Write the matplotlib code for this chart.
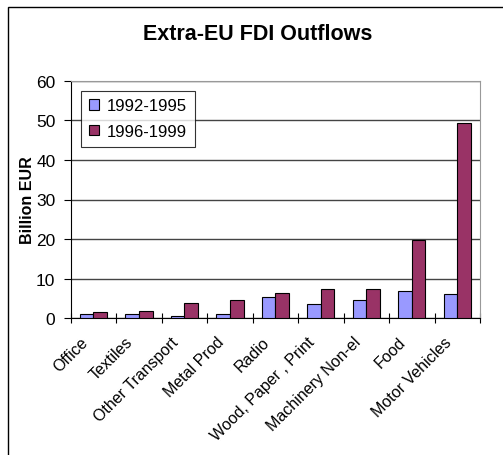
import numpy as np
import matplotlib
matplotlib.use("Agg")
import matplotlib.pyplot as plt
import matplotlib.transforms as mtransforms
from matplotlib.patches import Rectangle

# data
categories = ["Office", "Textiles", "Other Transport", "Metal Prod", "Radio",
              "Wood, Paper , Print", "Machinery Non-el", "Food", "Motor Vehicles"]
outflows_92_95 = [1.1, 1.0, 0.6, 1.0, 5.5, 3.7, 4.5, 6.8, 6.2]
outflows_96_99 = [1.5, 1.8, 3.8, 4.5, 6.5, 7.5, 7.5, 19.8, 49.3]
series_labels = ["1992-1995", "1996-1999"]
y_ticks = [0, 10, 20, 30, 40, 50, 60]

plt.rcParams['font.family'] = ['Liberation Sans', 'DejaVu Sans']

W, H = 503, 456
fig = plt.figure(figsize=(W / 100, H / 100), dpi=100)

# outer chart border (runs off the right and bottom like the reference)
fig.patches.append(Rectangle((8 / W, -0.1), 1.0, 1 - 8 / H + 0.1,
                             transform=fig.transFigure, fill=False,
                             edgecolor='black', linewidth=1.0))

left, right, top, bottom = 70.7, 480, 81.7, 319.3
ax = fig.add_axes([left / W, 1 - bottom / H, (right - left) / W, (bottom - top) / H])

x = np.arange(len(categories))
w = 0.3
ax.bar(x - w / 2, outflows_92_95, w, color='#9999FF', edgecolor='black',
       linewidth=0.8, label=series_labels[0], zorder=3)
ax.bar(x + w / 2, outflows_96_99, w, color='#993366', edgecolor='black',
       linewidth=0.8, label=series_labels[1], zorder=3)

ax.set_xlim(-0.5, len(categories) - 0.5)
ax.set_ylim(0, 60)
ax.set_yticks(y_ticks)
ax.yaxis.grid(True, color='#444444', linewidth=1.0, zorder=0)
ax.tick_params(axis='y', direction='out', length=5, labelsize=12.5, pad=6)

# ticks between categories, labels at centres
ax.set_xticks(np.arange(len(categories) + 1) - 0.5)
ax.set_xticklabels([])
ax.set_xticks(x, minor=True)
ax.set_xticklabels(categories, minor=True, rotation=45, ha='right', va='center',
                   rotation_mode='anchor', fontsize=11.5)
ax.tick_params(axis='x', which='major', direction='inout', length=7)
ax.tick_params(axis='x', which='minor', length=0, pad=15)
shift = mtransforms.ScaledTranslation(-6 / 72, 0, fig.dpi_scale_trans)
for lab in ax.get_xticklabels(minor=True):
    lab.set_transform(lab.get_transform() + shift)

for s in ['left', 'bottom']:
    ax.spines[s].set_color('black')
for s in ['top', 'right']:
    ax.spines[s].set_color('#999999')

ax.set_ylabel("Billion EUR", fontweight='bold', fontsize=11.5, labelpad=1)

leg = ax.legend(loc='upper left', bbox_to_anchor=(0.026, 0.958), fontsize=12,
                frameon=True, fancybox=False, edgecolor='black',
                handlelength=0.6, handleheight=0.6, handletextpad=0.5,
                borderpad=0.45, labelspacing=0.65, borderaxespad=0)
leg.get_frame().set_linewidth(0.8)

fig.text(258 / W, 1 - 35 / H, "Extra-EU FDI Outflows", ha='center', va='center',
         fontsize=15.5, fontweight='bold')

fig.savefig("out.png", dpi=100)
